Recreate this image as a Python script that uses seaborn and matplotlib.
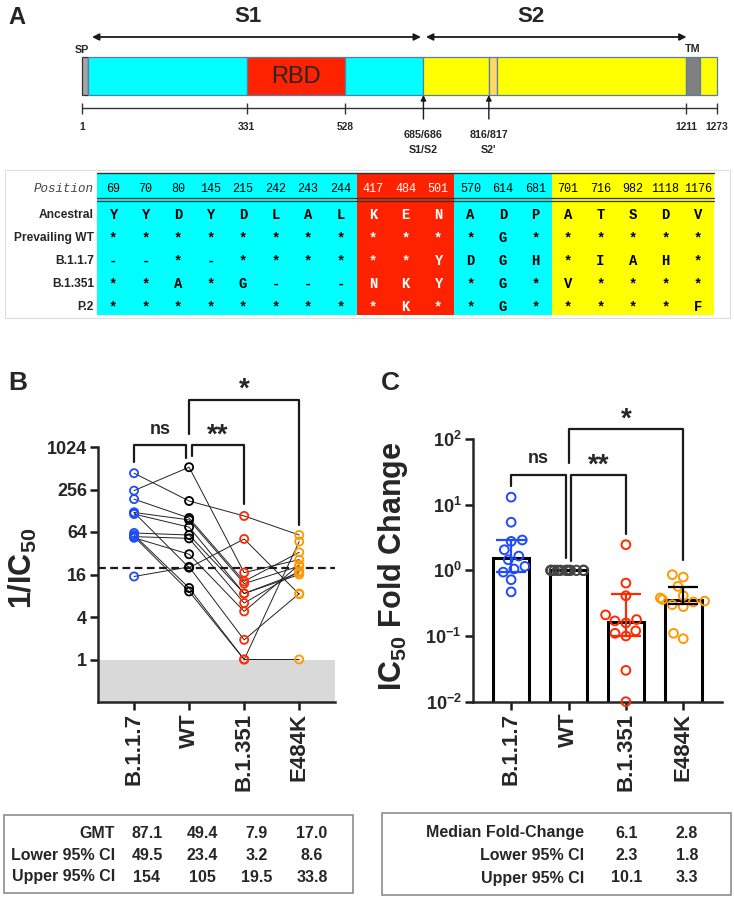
import numpy as np
import pandas as pd
import matplotlib
matplotlib.use('Agg')
import matplotlib.pyplot as plt
from matplotlib.patches import Rectangle
from matplotlib.collections import PathCollection
from matplotlib.ticker import NullLocator
from matplotlib import font_manager
import seaborn as sns

# ---------------- data ----------------
variants = ['B.1.1.7', 'WT', 'B.1.351', 'E484K']
colors = ['#1f4bff', '#000000', '#ff2a00', '#ff9900']
err_colors = ['#1f4bff', '#000000', '#ff2a00', '#000000']

# panel B : neutralising titre (1/IC50), one value per subject
titer_b117 = [436, 247, 187, 121, 115, 62, 55, 53, 15, 121, 58, 55]
titer_wt = [176, 530, 101, 95, 75, 58, 52, 31, 20.5, 20, 10.3, 9.2]
titer_b1351 = [108, 17, 12.8, 11.9, 8.6, 8.6, 6.3, 4.8, 1.9, 51, 1, 1]
titer_e484k = [58, 26, 33, 21, 17, 16, 18, 22, 8.6, 8.4, 1, 47]
cutoff = 20
lod = 1
titer_ticks = [1, 4, 16, 64, 256, 1024]

# panel C : IC50 fold change
fc_b117 = [13.0, 5.4, 2.9, 2.76, 2.06, 1.65, 1.45, 1.15, 1.05, 0.94, 0.72, 0.47]
fc_wt = [1.0] * 12
fc_b1351 = [2.46, 0.64, 0.41, 0.21, 0.178, 0.17, 0.158, 0.12, 0.11, 0.10, 0.030, 0.010]
fc_e484k = [0.86, 0.79, 0.57, 0.41, 0.38, 0.36, 0.34, 0.33, 0.30, 0.28, 0.11, 0.091]
ci_low = [0.93, None, 0.099, 0.303]
ci_high = [2.86, None, 0.435, 0.556]
fc_ticks = [0.01, 0.1, 1, 10, 100]
fc_ticklabels = [r'$10^{-2}$', r'$10^{-1}$', r'$10^{0}$', r'$10^{1}$', r'$10^{2}$']

# summary tables
gmt_rows = ['GMT', 'Lower 95% CI', 'Upper 95% CI']
gmt_vals = [['87.1', '49.4', '7.9', '17.0'],
            ['49.5', '23.4', '3.2', '8.6'],
            ['154', '105', '19.5', '33.8']]
fold_rows = ['Median Fold-Change', 'Lower 95% CI', 'Upper 95% CI']
fold_vals = [['6.1', '2.8'], ['2.3', '1.8'], ['10.1', '3.3']]

# panel A : spike protein domains
dom_start = [1, 13, 331, 528, 685, 816, 833, 1211, 1239]
dom_end = [13, 331, 528, 685, 816, 833, 1211, 1239, 1273]
dom_color = ['#a6a6a6', '#00ffff', '#ff2200', '#00ffff', '#ffff00',
             '#ffd966', '#ffff00', '#808080', '#ffff00']
ruler_ticks = [1, 331, 528, 1211, 1273]
cleavage_sites = [685, 816]
cleavage_pos = ['685/686', '816/817']
cleavage_name = ['S1/S2', "S2'"]

# panel A : mutation table
positions = ['69', '70', '80', '145', '215', '242', '243', '244', '417', '484', '501',
             '570', '614', '681', '701', '716', '982', '1118', '1176']
region = ['NTD'] * 8 + ['RBD'] * 3 + ['SD'] * 3 + ['S2'] * 5
region_color = {'NTD': '#00ffff', 'RBD': '#ff2200', 'SD': '#00ffff', 'S2': '#ffff00'}
lineages = ['Ancestral', 'Prevailing WT', 'B.1.1.7', 'B.1.351', 'P.2']
residues = ['YYDYDLAL' + 'KEN' + 'ADP' + 'ATSDV',
            '********' + '***' + '*G*' + '*****',
            '--*-****' + '**Y' + 'DGH' + '*IAH*',
            '**A*G---' + 'NKY' + '*G*' + 'V****',
            '********' + '*K*' + '*G*' + '****F']

# ---------------- style ----------------
sns.set_theme(style='ticks')
plt.rcParams['font.family'] = ['Liberation Sans', 'DejaVu Sans']
plt.rcParams['mathtext.fontset'] = 'custom'
plt.rcParams['mathtext.rm'] = 'Liberation Sans:bold'
plt.rcParams['mathtext.bf'] = 'Liberation Sans:bold'
plt.rcParams['mathtext.it'] = 'Liberation Sans:bold'
installed = {f.name for f in font_manager.fontManager.ttflist}
if 'Liberation Sans Narrow' in installed:
    narrow, nscale = 'Liberation Sans Narrow', 1.0
else:
    narrow, nscale = 'Liberation Sans', 0.82
mono = 'Liberation Mono'

W, H = 734, 900
fig = plt.figure(figsize=(W / 100, H / 100), dpi=100)


def box(x0, y0, x1, y1):
    return [x0 / W, 1 - y1 / H, (x1 - x0) / W, (y1 - y0) / H]


def fpt(x, y):
    return x / W, 1 - y / H


# ---------------- panel A : diagram ----------------
axA = fig.add_axes(box(0, 0, W, 165))
axA.set_xlim(-163.3, 1307.1)
axA.set_ylim(165, 0)
axA.axis('off')
for s, e, c in zip(dom_start, dom_end, dom_color):
    ec = '#333333' if s == 1 else '#5a7ca8'
    axA.add_patch(Rectangle((s, 57), e - s, 38, fc=c, ec=ec, lw=0.9))
axA.plot([1, 1273], [108, 108], color='#333333', lw=1)
axA.vlines(ruler_ticks, 103, 114, color='#333333', lw=1)
for t in ruler_ticks:
    axA.text(t, 127, str(t), ha='center', va='center', fontsize=9 * nscale,
             family=narrow, weight='bold')
for c, p, n in zip(cleavage_sites, cleavage_pos, cleavage_name):
    axA.annotate('', xy=(c, 95), xytext=(c, 119),
                 arrowprops=dict(arrowstyle='-|>', color='k', lw=1, mutation_scale=8,
                                 shrinkA=0, shrinkB=0))
    axA.text(c, 135, p, ha='center', va='center', fontsize=9.5 * nscale, family=narrow,
             weight='bold')
    axA.text(c, 150, n, ha='center', va='center', fontsize=9.5 * nscale, family=narrow,
             weight='bold')
for x0, x1 in [(21, 680), (690, 1212)]:
    axA.annotate('', xy=(x0, 37), xytext=(x1, 37),
                 arrowprops=dict(arrowstyle='<|-|>', color='k', lw=1.3, mutation_scale=10,
                                 shrinkA=0, shrinkB=0))
axA.text(334, 17, 'S1', ha='center', va='center', fontsize=16, weight='bold')
axA.text(900, 17, 'S2', ha='center', va='center', fontsize=16, weight='bold')
axA.text(1, 50, 'SP', ha='center', va='center', fontsize=9.5 * nscale, family=narrow,
         weight='bold')
axA.text(1225, 49, 'TM', ha='center', va='center', fontsize=9.5 * nscale, family=narrow,
         weight='bold')
axA.text(429.5, 77, 'RBD', ha='center', va='center', fontsize=17)
fig.text(*fpt(17, 18), 'A', ha='center', va='center', fontsize=17, weight='bold')

# ---------------- panel A : table ----------------
axT = fig.add_axes(box(0, 165, W, 320))
axT.set_xlim(-3.477, 19.108)
axT.set_ylim(4.565, -2.174)
axT.axis('off')
axT.add_patch(Rectangle((-3.32, -1.957), 22.3, 6.435, fill=False, ec='#dddddd', lw=0.8))
runs = []
start = 0
for i in range(1, len(region) + 1):
    if i == len(region) or region[i] != region[start]:
        runs.append((start, i, region[start]))
        start = i
for s, e, r in runs:
    axT.add_patch(Rectangle((s - 0.5, -1.826), e - s, 6.174, fc=region_color[r], lw=0))
axT.plot([-0.5, 18.5], [-1.826, -1.826], color='#333333', lw=1)
axT.plot([-0.5, 18.5], [-0.74, -0.74], color='#333333', lw=0.9)
axT.plot([-0.5, 18.5], [-0.63, -0.63], color='#333333', lw=0.9)
axT.text(-0.585, -1.13, 'Position', ha='right', va='center', fontsize=9,
         family=mono, style='italic', color='#444444')
for j, p in enumerate(positions):
    tc = 'white' if region[j] == 'RBD' else 'black'
    axT.text(j, -1.13, p, ha='center', va='center', fontsize=8.5, family=mono, color=tc)
for i, (lin, res) in enumerate(zip(lineages, residues)):
    axT.text(-0.585, i, lin, ha='right', va='center', fontsize=10.5 * nscale, family=narrow,
             weight='bold')
    for j, ch in enumerate(res):
        tc = 'white' if region[j] == 'RBD' else 'black'
        axT.text(j, i, ch, ha='center', va='center', fontsize=10, family=mono,
                 weight='bold', color=tc)


def make_hollow(ax, lw, unclip=False):
    for coll in ax.collections:
        if isinstance(coll, PathCollection):
            fc = coll.get_facecolors()
            coll.set_edgecolors(fc)
            coll.set_facecolors('none')
            coll.set_linewidth(lw)
            if unclip and len(coll.get_offsets()) > 0:
                coll.set_clip_on(False)


def bracket(ax, x0, x1, ytop, y0, y1, text, ty, fs):
    ax.plot([x0, x0, x1, x1], [y0, ytop, ytop, y1], color='k', lw=1.6, clip_on=False)
    ax.text((x0 + x1) / 2, ty, text, ha='center', va='center', fontsize=fs,
            weight='bold', clip_on=False)


def style_axis(ax):
    sns.despine(ax=ax)
    for sp in ['left', 'bottom']:
        ax.spines[sp].set_linewidth(1.8)
    ax.tick_params(width=1.8, length=6, pad=2, color='k')
    ax.tick_params(axis='y', labelsize=13)
    ax.yaxis.set_minor_locator(NullLocator())
    ax.set_xticks(range(len(variants)))
    ax.set_xticklabels(variants, rotation=90, fontsize=16, weight='bold')
    for lab in ax.get_yticklabels():
        lab.set_fontweight('bold')
    ax.set_xlabel('')


# ---------------- panel B ----------------
pal = dict(zip(variants, colors))
dfB = pd.DataFrame({
    'variant': np.repeat(variants, 12),
    'titer': np.concatenate([titer_b117, titer_wt, titer_b1351, titer_e484k]),
    'subject': np.tile(np.arange(12), 4),
})
dfB['xpos'] = dfB['variant'].map({v: i for i, v in enumerate(variants)})

axB = fig.add_axes(box(98, 447, 335, 702))
axB.set_yscale('log', base=2)
axB.axhspan(0.25, lod, color='#d9d9d9', lw=0, zorder=0)
sns.lineplot(data=dfB, x='xpos', y='titer', units='subject', estimator=None, sort=False,
             color='#222222', lw=0.7, ax=axB, zorder=2)
sns.scatterplot(data=dfB, x='xpos', y='titer', hue='variant', palette=pal, s=34,
                legend=False, ax=axB, zorder=3)
make_hollow(axB, 1.3)
axB.axhline(cutoff, color='k', ls=(0, (3.5, 2)), lw=1.6, zorder=2.5)
axB.set_xlim(-0.655, 3.65)
axB.set_ylim(0.25, 1024)
axB.set_yticks(titer_ticks)
axB.set_yticklabels([str(t) for t in titer_ticks])
style_axis(axB)
axB.set_ylabel('1/IC$_{50}$', fontsize=22, weight='bold')
axB.yaxis.set_label_coords(-0.25, 0.525)
bracket(axB, 0, 0.945, 1110, 638, 725, 'ns', 1810, 13)
bracket(axB, 1.055, 2, 1110, 759, 157, '**', 1500, 20)
bracket(axB, 1, 3, 4670, 1540, 81.6, '*', 6600, 20)
fig.text(*fpt(18, 383), 'B', ha='center', va='center', fontsize=19, weight='bold')

# ---------------- panel C ----------------
dfC = pd.DataFrame({
    'variant': np.repeat(variants, 12),
    'fc': np.concatenate([fc_b117, fc_wt, fc_b1351, fc_e484k]),
})
axC = fig.add_axes(box(472.7, 439, 721.7, 701.7))
sns.barplot(data=dfC, x='variant', y='fc', order=variants, estimator='median', errorbar=None,
            width=0.64, color='white', edgecolor='black', linewidth=2.2, ax=axC, zorder=1)
axC.set_yscale('log')
sns.swarmplot(data=dfC[dfC['variant'] != 'WT'], x='variant', y='fc', order=variants,
              hue='variant', palette=pal, size=6.3, legend=False, ax=axC, zorder=3)
np.random.seed(3)
sns.stripplot(data=dfC[dfC['variant'] == 'WT'], x='variant', y='fc', order=variants,
              color='#444444', size=6.7, jitter=0.33, ax=axC, zorder=3)
make_hollow(axC, 1.4, unclip=True)
meds = dfC.groupby('variant')['fc'].median().reindex(variants)
for i, (lo, hi) in enumerate(zip(ci_low, ci_high)):
    if lo is None:
        continue
    m = meds.iloc[i]
    axC.errorbar(i, m, yerr=[[m - lo], [hi - m]], fmt='none', ecolor=err_colors[i],
                 elinewidth=1.6, capsize=11, capthick=1.6, zorder=4)
axC.set_xlim(-0.67, 3.67)
axC.set_ylim(0.01, 100)
axC.set_yticks(fc_ticks)
axC.set_yticklabels(fc_ticklabels)
style_axis(axC)
axC.set_ylabel('IC$_{50}$ Fold Change', fontsize=22, weight='bold')
axC.yaxis.set_label_coords(-0.25, 0.517)
bracket(axC, 0, 0.948, 28.6, 19, 1.55, 'ns', 50, 13)
bracket(axC, 1.04, 2, 28.6, 1.37, 3.6, '**', 40, 20)
bracket(axC, 1, 3, 142, 43, 1.46, '*', 200, 20)
fig.text(*fpt(390, 383), 'C', ha='center', va='center', fontsize=19, weight='bold')

# ---------------- summary tables ----------------
fig.add_artist(Rectangle(fpt(4, 893), 349 / W, 78 / H, transform=fig.transFigure,
                         fill=False, ec='#8c8c8c', lw=1.2))
for r, (lab, vals) in enumerate(zip(gmt_rows, gmt_vals)):
    y = [833, 855, 877][r]
    fig.text(*fpt(115, y), lab, ha='right', va='center', fontsize=11.5, weight='bold')
    for x, v in zip([147, 202, 257, 312], vals):
        fig.text(*fpt(x, y), v, ha='center', va='center', fontsize=11.5, weight='bold')

fig.add_artist(Rectangle(fpt(382, 895), 349 / W, 82 / H, transform=fig.transFigure,
                         fill=False, ec='#8c8c8c', lw=1.2))
for r, (lab, vals) in enumerate(zip(fold_rows, fold_vals)):
    y = [833, 855, 878][r]
    fig.text(*fpt(584, y), lab, ha='right', va='center', fontsize=11.5, weight='bold')
    for x, v in zip([627, 687], vals):
        fig.text(*fpt(x, y), v, ha='center', va='center', fontsize=11.5, weight='bold')

fig.savefig('out.png', dpi=100)
